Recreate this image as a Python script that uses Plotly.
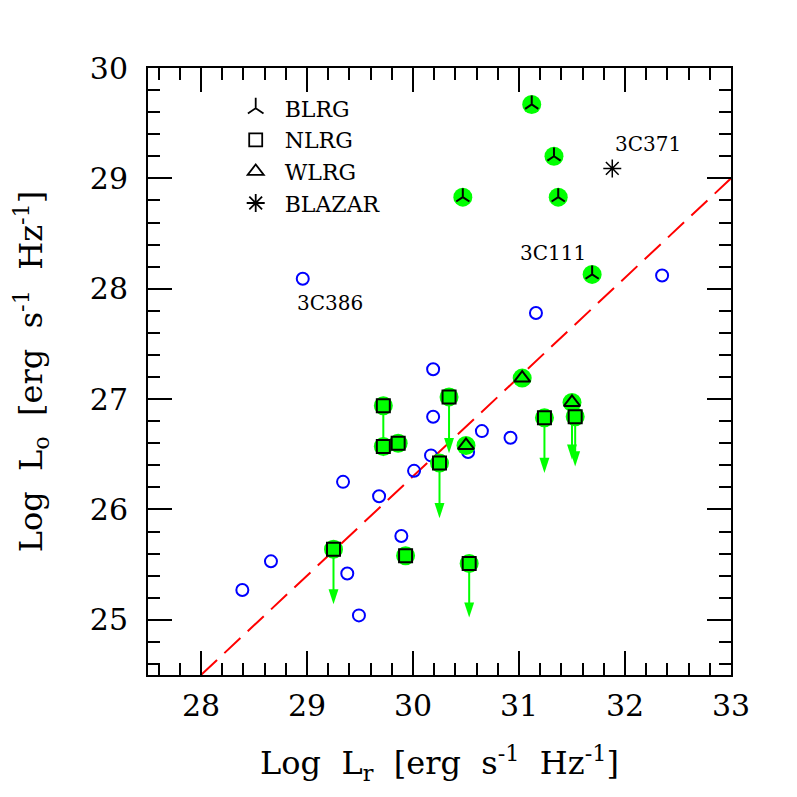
import plotly.graph_objects as go

# radio vs optical core luminosity (log erg s^-1 Hz^-1)
other_x = [28.39, 28.66, 28.96, 29.34, 29.38, 29.49, 29.68, 29.89, 30.01, 30.17,
           30.19, 30.19, 30.52, 30.65, 30.92, 31.16, 32.35]
other_y = [25.27, 25.53, 28.09, 26.25, 25.42, 25.04, 26.12, 25.76, 26.35, 26.49,
           26.84, 27.27, 26.52, 26.71, 26.65, 27.78, 28.12]

blrg_x = [31.12, 31.33, 30.47, 31.37, 31.69]
blrg_y = [29.67, 29.20, 28.83, 28.83, 28.13]

nlrg_x = [29.72, 29.72, 29.86, 30.34, 30.25, 29.25, 29.93, 30.53, 31.24, 31.53]
nlrg_y = [26.94, 26.57, 26.60, 27.02, 26.42, 25.64, 25.58, 25.51, 26.83, 26.84]
# arrow tips for upper limits (None = detection)
nlrg_tip = [26.48, None, None, 26.51, 25.92, 25.14, None, 25.02, 26.33, 26.39]

wlrg_x = [31.03, 30.50, 31.50]
wlrg_y = [27.19, 26.58, 26.97]
wlrg_tip = [None, None, 26.45]

blazar_x = [31.88]
blazar_y = [29.09]

fit_x = [28.0, 33.0]
fit_y = [24.5, 29.0]

names = ["3C386", "3C111", "3C371"]
name_x = [29.22, 31.32, 32.22]
name_y = [27.87, 28.32, 29.31]

GREEN = "#00ff00"
SERIF = "DejaVu Serif"
SP = "\u00a0 "

fig = go.Figure()

fig.add_trace(go.Scatter(x=fit_x, y=fit_y, mode="lines", showlegend=False,
                         line=dict(color="#ff0000", width=2, dash="22px,10px")))

fig.add_trace(go.Scatter(x=other_x, y=other_y, mode="markers", showlegend=False,
                         marker=dict(symbol="circle-open", size=12, color="#0000ff",
                                     line=dict(width=2, color="#0000ff"))))

# green discs behind all classified sources
gx = blrg_x + nlrg_x + wlrg_x
gy = blrg_y + nlrg_y + wlrg_y
fig.add_trace(go.Scatter(x=gx, y=gy, mode="markers", showlegend=False,
                         marker=dict(symbol="circle", size=19, color=GREEN)))

# upper-limit arrows
ax, ay, tx, ty = [], [], [], []
for xs, ys, tips in [(nlrg_x, nlrg_y, nlrg_tip), (wlrg_x, wlrg_y, wlrg_tip)]:
    for x, y, t in zip(xs, ys, tips):
        if t is None:
            continue
        ax += [x, x, None]
        ay += [y, t + 0.06, None]
        tx.append(x)
        ty.append(t)
fig.add_trace(go.Scatter(x=ax, y=ay, mode="lines", showlegend=False,
                         line=dict(color=GREEN, width=2)))
fig.add_trace(go.Scatter(x=tx, y=ty, mode="markers", showlegend=False,
                         marker=dict(symbol="arrow", angle=180, size=16, color=GREEN)))

fig.add_trace(go.Scatter(x=blrg_x, y=blrg_y, mode="markers", showlegend=False,
                         marker=dict(symbol="y-up", size=11, color="black",
                                     line=dict(width=2, color="black"))))
fig.add_trace(go.Scatter(x=nlrg_x, y=nlrg_y, mode="markers", showlegend=False,
                         marker=dict(symbol="square", size=13, color=GREEN,
                                     line=dict(width=2, color="black"))))
fig.add_trace(go.Scatter(x=wlrg_x, y=wlrg_y, mode="markers", showlegend=False,
                         marker=dict(symbol="triangle-up", size=14, color=GREEN,
                                     line=dict(width=2, color="black"))))
fig.add_trace(go.Scatter(x=blazar_x, y=blazar_y, mode="markers", showlegend=False,
                         marker=dict(symbol="asterisk-open", size=15, color="black",
                                     line=dict(width=1.5, color="black"))))

# legend keys (open black symbols, no data)
legend_keys = [("BLRG", "y-up", 13), ("NLRG", "square-open", 13),
               ("WLRG", "triangle-up-open", 14), ("BLAZAR", "asterisk-open", 15)]
for name, sym, sz in legend_keys:
    fig.add_trace(go.Scatter(x=[None], y=[None], mode="markers", name=name,
                             marker=dict(symbol=sym, size=sz, color="black",
                                         line=dict(width=1.8, color="black"))))

for n, x, y in zip(names, name_x, name_y):
    fig.add_annotation(x=x, y=y, text=n, showarrow=False,
                       font=dict(family=SERIF, size=20, color="black"))

axis_common = dict(
    showgrid=False, zeroline=False, showline=True, linecolor="black", linewidth=2,
    mirror="allticks", ticks="inside", ticklen=24, tickwidth=2, tickcolor="black",
    dtick=1, tickfont=dict(family=SERIF, size=30, color="black"),
    minor=dict(ticks="inside", ticklen=12, tickwidth=2, tickcolor="black", dtick=0.2),
)

title_txt = "Log" + SP + "L<sub>%s</sub>" + SP + "[erg" + SP + "s<sup>-1</sup>" + SP + "Hz<sup>-1</sup>]"

fig.update_layout(
    width=789, height=789,
    margin=dict(l=140, r=66, t=60, b=122),
    paper_bgcolor="white", plot_bgcolor="white",
    xaxis=dict(range=[27.5, 33], tick0=28, ticklabelstandoff=3,
               title=dict(text=title_txt % "r",
                          font=dict(family=SERIF, size=32, color="black"), standoff=30),
               **axis_common),
    yaxis=dict(range=[24.5, 30], tick0=25, ticklabelstandoff=12,
               title=dict(text=title_txt % "o",
                          font=dict(family=SERIF, size=32, color="black"), standoff=48),
               **axis_common),
    legend=dict(x=0.135, y=0.968, xanchor="left", yanchor="top", itemwidth=48,
                bgcolor="rgba(0,0,0,0)", font=dict(family=SERIF, size=22, color="black"),
                tracegroupgap=0, itemsizing="trace"),
)

fig.write_html("out.html")
